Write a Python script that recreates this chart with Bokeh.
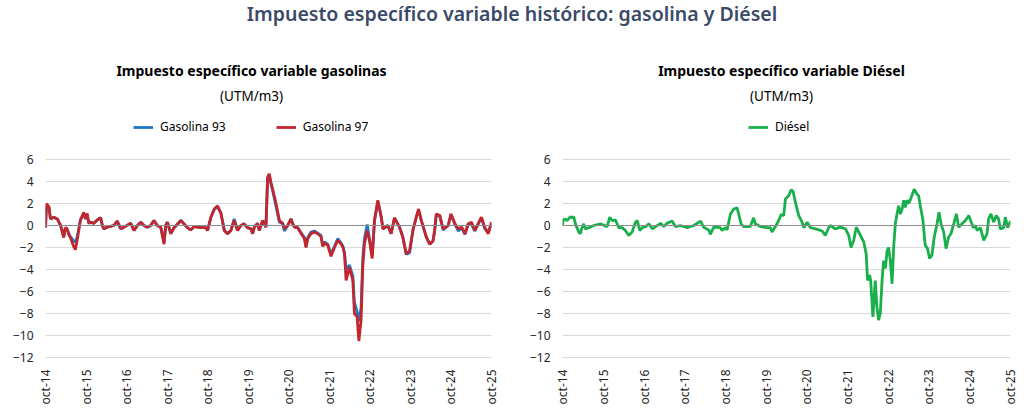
import pandas as pd
from bokeh.plotting import figure
from bokeh.models import (ColumnDataSource, Range1d, FixedTicker, Span, Label,
                          Legend, LegendItem, Div)
from bokeh.layouts import column, row
from bokeh.embed import file_html
from bokeh.resources import INLINE

FONT = "Noto Sans"

# ---------------- data ----------------
x_tick_dates = ["2014-10-01", "2015-10-01", "2016-10-01", "2017-10-01", "2018-10-01",
                "2019-10-01", "2020-10-01", "2021-10-01", "2022-10-01", "2023-10-01",
                "2024-10-01", "2025-10-01"]
x_tick_labels = ["oct-14", "oct-15", "oct-16", "oct-17", "oct-18", "oct-19",
                 "oct-20", "oct-21", "oct-22", "oct-23", "oct-24", "oct-25"]
y_ticks = [-12, -10, -8, -6, -4, -2, 0, 2, 4, 6]

gas_dates = [
    "2014-10-01", "2014-10-10", "2014-11-01", "2014-11-15", "2014-12-15", "2015-01-15",
    "2015-02-14", "2015-03-01", "2015-03-14", "2015-03-29", "2015-04-13", "2015-04-28",
    "2015-05-13", "2015-06-12", "2015-06-27", "2015-07-12", "2015-08-12", "2015-09-11",
    "2015-09-26", "2015-10-11", "2015-10-26", "2015-11-10", "2015-12-10", "2016-01-10",
    "2016-02-10", "2016-02-25", "2016-03-10", "2016-04-09", "2016-06-08", "2016-07-08",
    "2016-08-08", "2016-09-07", "2016-11-07", "2016-12-06", "2017-01-06", "2017-02-06",
    "2017-03-06", "2017-04-05", "2017-05-05", "2017-06-04", "2017-07-04", "2017-08-04",
    "2017-09-03", "2017-09-18", "2017-10-03", "2017-11-03", "2017-12-02", "2018-02-02",
    "2018-03-02", "2018-04-01", "2018-05-01", "2018-06-01", "2018-08-01", "2018-09-15",
    "2018-09-30", "2018-10-30", "2018-11-30", "2018-12-29", "2019-01-29", "2019-02-28",
    "2019-03-29", "2019-04-28", "2019-05-28", "2019-06-27", "2019-07-27", "2019-08-26",
    "2019-09-26", "2019-10-26", "2019-11-10", "2019-11-25", "2019-12-25", "2020-01-09",
    "2020-02-09", "2020-03-09", "2020-03-24", "2020-04-08", "2020-04-23", "2020-05-08",
    "2020-06-08", "2020-07-08", "2020-08-07", "2020-08-22", "2020-09-21", "2020-10-21",
    "2020-11-06", "2020-11-21", "2020-12-21", "2021-01-21", "2021-02-19", "2021-03-05",
    "2021-03-20", "2021-04-19", "2021-05-19", "2021-06-18", "2021-07-18", "2021-08-03",
    "2021-08-17", "2021-09-17", "2021-10-16", "2021-11-16", "2021-12-16", "2022-01-16",
    "2022-02-01", "2022-02-15", "2022-03-01", "2022-03-31", "2022-05-01", "2022-05-15",
    "2022-06-08", "2022-06-24", "2022-07-14", "2022-07-29", "2022-08-13", "2022-09-07",
    "2022-09-28", "2022-10-22", "2022-11-12", "2022-12-12", "2023-01-12", "2023-01-27",
    "2023-03-12", "2023-04-11", "2023-05-11", "2023-06-25", "2023-07-25", "2023-08-25",
    "2023-09-24", "2023-10-24", "2023-11-23", "2023-12-14", "2024-01-08", "2024-02-22",
    "2024-03-23", "2024-04-22", "2024-05-07", "2024-05-22", "2024-06-22", "2024-07-22",
    "2024-09-06", "2024-10-01", "2024-11-06", "2024-12-06", "2025-01-05", "2025-02-04",
    "2025-03-04", "2025-04-04", "2025-05-03", "2025-06-02", "2025-07-02", "2025-08-01",
    "2025-09-01", "2025-10-01"]

gasolina_97 = [
    -0.2, 2.0, 1.7, 0.6, 0.75, 0.6,
    0.0, -0.6, -1.1, -0.2, -0.3, -0.8,
    -1.1, -1.9, -2.2, -1.4, 0.5, 1.2,
    0.6, 1.1, 0.2, 0.3, 0.2, 0.5,
    0.7, 0.0, -0.3, -0.15, 0.0, 0.4,
    -0.3, -0.15, 0.2, -0.45, 0.0, 0.3,
    0.0, -0.15, 0.0, 0.45, 0.0, -0.15,
    -1.7, 0.0, 0.3, -0.75, -0.2, 0.45,
    0.15, -0.2, -0.4, -0.1, -0.2, -0.2,
    -0.45, 0.75, 1.5, 1.8, 1.1, -0.45,
    -0.75, -0.45, 0.45, -0.45, 0.0, 0.15,
    -0.2, -0.3, -0.75, -0.15, 0.2, -0.45,
    0.45, -0.15, 4.4, 4.7, 3.9, 3.3,
    2.0, 0.45, 0.2, -0.3, 0.0, 0.6,
    0.15, -0.15, -0.2, -0.75, -1.2, -2.0,
    -1.2, -0.75, -0.6, -0.75, -1.0, -1.9,
    -1.6, -1.8, -2.8, -2.0, -1.35, -1.7,
    -2.0, -2.6, -5.0, -3.8, -5.0, -8.0,
    -8.3, -10.5, -8.6, -3.8, -1.7, -0.45,
    -1.35, -3.0, 0.45, 2.3, 0.75, -0.3,
    0.0, -0.75, 0.7, -0.15, -1.05, -2.6,
    -2.3, -0.45, 0.75, 1.5, 0.45, -1.05,
    -1.7, -1.4, -0.45, 1.05, 0.9, -0.3,
    0.0, 1.05, 0.15, -0.3, -0.15, -0.75,
    0.15, 0.3, -0.45, 0.15, 0.75, -0.15,
    -0.75, 0.3]

gasolina_93 = [
    -0.2, 1.8, 1.6, 0.6, 0.75, 0.6,
    0.0, -0.5, -1.0, -0.2, -0.3, -0.7,
    -1.0, -1.4, -1.5, -1.1, 0.5, 1.1,
    0.6, 1.0, 0.2, 0.3, 0.2, 0.5,
    0.7, 0.0, -0.3, -0.15, 0.0, 0.4,
    -0.3, -0.15, 0.2, -0.45, 0.0, 0.3,
    0.0, -0.15, 0.0, 0.45, 0.0, -0.15,
    -1.5, 0.0, 0.3, -0.7, -0.2, 0.45,
    0.15, -0.2, -0.4, -0.1, -0.2, -0.2,
    -0.45, 0.75, 1.5, 1.7, 1.1, -0.45,
    -0.75, -0.45, 0.6, -0.45, 0.0, 0.15,
    -0.2, -0.3, -0.75, -0.15, 0.2, -0.45,
    0.45, -0.15, 4.3, 4.6, 3.8, 3.2,
    1.7, 0.3, 0.2, -0.5, 0.0, 0.6,
    0.15, -0.15, -0.2, -0.7, -1.1, -1.9,
    -1.1, -0.6, -0.5, -0.7, -0.9, -1.8,
    -1.5, -1.7, -2.6, -1.9, -1.2, -1.6,
    -1.9, -2.5, -4.0, -3.6, -4.6, -7.0,
    -7.8, -8.7, -7.5, -3.0, -1.2, 0.1,
    -1.2, -2.8, 0.45, 2.2, 0.75, -0.3,
    0.0, -0.75, 0.7, -0.15, -1.05, -2.6,
    -2.5, -0.45, 0.75, 1.4, 0.45, -1.05,
    -1.7, -1.4, -0.45, 1.0, 0.9, -0.4,
    0.0, 1.0, 0.1, -0.5, -0.2, -0.8,
    0.1, 0.1, -0.5, 0.1, 0.7, -0.3,
    -0.6, 0.1]

diesel_dates = [
    "2014-10-01", "2014-10-07", "2014-10-21", "2014-11-11", "2014-12-11", "2014-12-26",
    "2015-01-10", "2015-01-25", "2015-02-24", "2015-03-10", "2015-03-25", "2015-04-09",
    "2015-04-24", "2015-05-24", "2015-07-08", "2015-09-06", "2015-11-05", "2015-11-29",
    "2015-12-20", "2016-01-19", "2016-02-18", "2016-03-18", "2016-04-17", "2016-05-17",
    "2016-06-16", "2016-07-16", "2016-08-01", "2016-08-24", "2016-09-15", "2016-10-15",
    "2016-11-14", "2016-12-14", "2017-01-13", "2017-02-27", "2017-03-27", "2017-04-26",
    "2017-06-10", "2017-07-10", "2017-08-24", "2017-10-23", "2017-12-22", "2018-02-20",
    "2018-03-20", "2018-05-04", "2018-05-19", "2018-06-18", "2018-08-17", "2018-09-01",
    "2018-10-01", "2018-10-16", "2018-11-15", "2018-12-15", "2019-01-14", "2019-01-29",
    "2019-02-19", "2019-03-14", "2019-05-12", "2019-06-11", "2019-06-26", "2019-08-10",
    "2019-10-09", "2019-11-08", "2019-11-23", "2019-12-23", "2020-01-22", "2020-02-13",
    "2020-03-07", "2020-03-22", "2020-04-21", "2020-05-12", "2020-05-30", "2020-06-20",
    "2020-07-20", "2020-08-19", "2020-09-03", "2020-10-03", "2020-11-02", "2020-12-17",
    "2021-01-16", "2021-02-15", "2021-03-15", "2021-04-14", "2021-04-29", "2021-06-13",
    "2021-07-28", "2021-09-12", "2021-10-11", "2021-11-01", "2021-11-25", "2021-12-18",
    "2022-01-24", "2022-02-23", "2022-03-17", "2022-03-29", "2022-04-16", "2022-04-26",
    "2022-05-16", "2022-06-06", "2022-06-21", "2022-07-06", "2022-07-21", "2022-08-06",
    "2022-08-20", "2022-09-05", "2022-09-20", "2022-10-04", "2022-10-19", "2022-11-04",
    "2022-11-18", "2022-12-03", "2022-12-18", "2023-01-02", "2023-01-17", "2023-02-02",
    "2023-02-16", "2023-03-02", "2023-03-17", "2023-04-01", "2023-04-15", "2023-04-30",
    "2023-05-21", "2023-06-15", "2023-06-30", "2023-07-15", "2023-08-08", "2023-08-28",
    "2023-09-18", "2023-10-06", "2023-10-27", "2023-11-17", "2023-12-12", "2023-12-30",
    "2024-01-17", "2024-02-10", "2024-03-02", "2024-03-25", "2024-04-15", "2024-05-10",
    "2024-06-03", "2024-06-23", "2024-07-23", "2024-08-22", "2024-09-22", "2024-11-01",
    "2024-11-20", "2024-12-06", "2025-01-04", "2025-02-03", "2025-03-04", "2025-03-19",
    "2025-04-09", "2025-05-02", "2025-05-26", "2025-06-16", "2025-07-01", "2025-08-01",
    "2025-08-16", "2025-09-06", "2025-10-01"]

diesel = [
    0.0, 0.45, 0.6, 0.45, 0.8, 0.7,
    0.8, 0.15, -0.6, -0.75, -0.2, 0.15,
    -0.3, -0.2, 0.0, 0.15, -0.1, 0.75,
    0.45, 0.5, -0.2, -0.2, -0.45, -0.9,
    -0.6, 0.3, 0.45, -0.45, -0.2, -0.1,
    0.15, -0.3, -0.1, 0.2, -0.1, 0.2,
    0.4, -0.1, 0.0, -0.2, 0.0, 0.4,
    -0.15, -0.4, -0.8, -0.15, -0.2, -0.45,
    -0.2, -0.4, 1.05, 1.5, 1.6, 1.0,
    0.15, -0.1, -0.1, 0.7, 0.15, -0.1,
    -0.2, -0.2, -0.6, -0.1, 0.45, 1.0,
    0.9, 2.4, 2.7, 3.25, 3.1, 2.1,
    0.9, 0.3, -0.2, 0.3, -0.2, -0.3,
    -0.4, -0.5, -0.9, -0.2, 0.0, -0.3,
    -0.15, -0.3, -0.9, -2.0, -1.35, -0.15,
    -0.9, -1.5, -2.6, -5.0, -4.5, -5.0,
    -8.3, -5.0, -7.4, -8.6, -8.0, -5.0,
    -3.2, -3.9, -2.3, -2.0, -3.2, -5.3,
    -2.0, 0.15, 1.05, 1.8, 1.05, 1.5,
    2.3, 1.65, 2.3, 2.0, 2.3, 2.7,
    3.3, 2.85, 2.7, 1.8, 0.45, -1.8,
    -2.1, -3.0, -2.7, -1.05, 0.15, 1.2,
    0.15, -0.6, -2.1, -1.05, -0.75, 0.15,
    1.05, -0.15, 0.15, 0.45, 0.9, -0.2,
    0.0, -0.45, -0.2, -1.35, -0.75, 0.6,
    1.05, 0.3, 0.9, 0.6, -0.3, -0.2,
    0.75, -0.2, 0.4]

# ---------------- layout constants ----------------
tick_ms = [int(pd.Timestamp(d).value // 10**6) for d in x_tick_dates]
overrides = {t: lab for t, lab in zip(tick_ms, x_tick_labels)}
x_start, x_end = pd.Timestamp(x_tick_dates[0]), pd.Timestamp(x_tick_dates[-1])

DIV_H = 40          # main title strip
FRAME_TOP = 50      # page y of frame top (frame includes blank header zone)
FRAME_BOTTOM = 357  # page y of the -12 gridline
PX_PER_UNIT = 11.0
FIG_H = 414 - DIV_H
FRAME_H = FRAME_BOTTOM - FRAME_TOP
BORDER_TOP = FRAME_TOP - DIV_H
BORDER_BOTTOM = FIG_H - FRAME_H - BORDER_TOP
Y_MIN = -12
Y_MAX = Y_MIN + FRAME_H / PX_PER_UNIT


def make_fig(width, left, right):
    p = figure(width=width, height=FIG_H, x_axis_type="datetime",
               x_range=Range1d(x_start, x_end), y_range=Range1d(Y_MIN, Y_MAX),
               output_backend="svg", toolbar_location=None,
               min_border_left=left, min_border_right=right,
               min_border_top=BORDER_TOP, min_border_bottom=BORDER_BOTTOM)
    p.outline_line_color = None
    p.background_fill_color = "white"
    p.border_fill_color = "white"
    p.xgrid.grid_line_color = None
    p.ygrid.grid_line_color = "#d9d9d9"
    p.ygrid.grid_line_width = 1
    p.yaxis.ticker = FixedTicker(ticks=y_ticks)
    p.xaxis.ticker = FixedTicker(ticks=tick_ms)
    p.xaxis.major_label_overrides = overrides
    p.xaxis.major_label_orientation = 3.14159265 / 2
    for ax in (p.xaxis, p.yaxis):
        ax.major_label_text_font = FONT
        ax.major_label_text_font_size = "12px"
        ax.major_label_text_color = "#262626"
        ax.major_tick_line_color = None
        ax.minor_tick_line_color = None
    p.yaxis.axis_line_color = None
    p.xaxis.axis_line_color = "#d9d9d9"
    p.yaxis.major_label_standoff = 6
    p.xaxis.major_label_standoff = 6
    p.add_layout(Span(location=0, dimension="width", line_color="#8c8c8c", line_width=1))
    return p


def add_text(p, x, y, text, size, bold=False):
    p.add_layout(Label(x=x, y=y, x_units="screen", y_units="screen", text=text,
                       text_font=FONT, text_font_size=size,
                       text_font_style="bold" if bold else "normal",
                       text_color="#000000", text_align="center",
                       text_baseline="middle"))


def make_legend(items, x, spacing):
    return Legend(items=items, orientation="horizontal", location=(x, FRAME_BOTTOM - 135),
                  glyph_width=20, glyph_height=16, label_standoff=7, spacing=spacing,
                  padding=0, margin=0, border_line_color=None,
                  background_fill_alpha=0, label_height=16,
                  label_text_font=FONT, label_text_font_size="12px",
                  label_text_color="#000000")


# ---------------- left: gasolinas ----------------
gas_src = ColumnDataSource(dict(date=pd.to_datetime(gas_dates), g93=gasolina_93,
                                g97=gasolina_97))
p1 = make_fig(520, 45, 29)
r93 = p1.line("date", "g93", source=gas_src, line_color="#1f78c8", line_width=2.8)
r97 = p1.line("date", "g97", source=gas_src, line_color="#c4262e", line_width=2.8)
add_text(p1, 251 - 45, FRAME_BOTTOM - 70, "Impuesto específico variable gasolinas",
         "14px", bold=True)
add_text(p1, 251 - 45, FRAME_BOTTOM - 95, "(UTM/m3)", "13.5px")
p1.add_layout(make_legend([LegendItem(label="Gasolina 93", renderers=[r93]),
                           LegendItem(label="Gasolina 97", renderers=[r97])],
                          133 - 45, 50))

# ---------------- right: diésel ----------------
die_src = ColumnDataSource(dict(date=pd.to_datetime(diesel_dates), d=diesel))
p2 = make_fig(504, 42, 14)
rd = p2.line("date", "d", source=die_src, line_color="#19b04b", line_width=2.8)
add_text(p2, 781 - 562, FRAME_BOTTOM - 70, "Impuesto específico variable Diésel",
         "14px", bold=True)
add_text(p2, 781 - 562, FRAME_BOTTOM - 95, "(UTM/m3)", "13.5px")
p2.add_layout(make_legend([LegendItem(label="Diésel", renderers=[rd])], 748 - 562, 0))

title = Div(text="Impuesto específico variable histórico: gasolina y Diésel",
            width=1024, height=DIV_H, margin=(0, 0, 0, 0),
            styles={"text-align": "center", "font-family": FONT, "font-size": "19.5px",
                    "font-weight": "600", "color": "#3b4a68", "line-height": "27px",
                    "width": "1024px"})

layout = column(title, row(p1, p2))
open("out.html", "w").write(file_html(layout, INLINE))
